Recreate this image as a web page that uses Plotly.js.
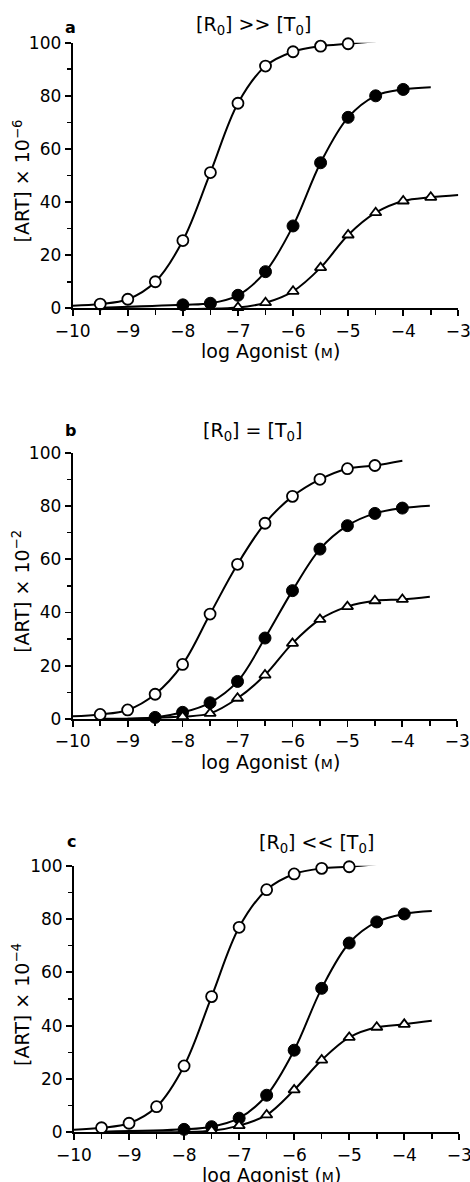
<!DOCTYPE html>
<html>
<head>
<meta charset="utf-8">
<script src="https://cdn.plot.ly/plotly-3.0.1.min.js"></script>
<style>html,body{margin:0;padding:0;background:#fff;}#chart{width:470px;height:1182px;}</style>
</head>
<body>
<div id="chart"></div>
<script>
// ---- Data ----
// Panel a: [R0] >> [T0]
const aOpenX = [-9.5, -9, -8.5, -8, -7.5, -7, -6.5, -6, -5.5, -5];
const aOpenY = [1.6, 3.4, 10, 25.5, 51.1, 77.2, 91.2, 96.6, 98.7, 99.6];
const aOpenCurveStart = [-10, 1.0];
const aOpenCurveEnd = [-4.5, 100.5];
const aFilledX = [-8, -7.5, -7, -6.5, -6, -5.5, -5, -4.5, -4];
const aFilledY = [1.3, 1.9, 4.9, 13.8, 31, 54.8, 71.9, 80, 82.4];
const aFilledCurveStart = [-9.5, 0.2];
const aFilledCurveEnd = [-3.5, 83.2];
const aTriX = [-7, -6.5, -6, -5.5, -5, -4.5, -4, -3.5];
const aTriY = [0.3, 2.1, 6.4, 15.3, 27.6, 36, 40.4, 41.8];
const aTriCurveStart = [-9.5, 0];
const aTriCurveEnd = [-3, 42.7];

// Panel b: [R0] = [T0]
const bOpenX = [-9.5, -9, -8.5, -8, -7.5, -7, -6.5, -6, -5.5, -5, -4.5];
const bOpenY = [1.7, 3.4, 9.3, 20.5, 39.4, 58.1, 73.5, 83.6, 90, 94, 95.2];
const bOpenCurveStart = [-10, 1.0];
const bOpenCurveEnd = [-4, 97];
const bFilledX = [-8.5, -8, -7.5, -7, -6.5, -6, -5.5, -5, -4.5, -4];
const bFilledY = [0.6, 2.5, 6.1, 14.1, 30.4, 48.2, 63.8, 72.6, 77.2, 79.2];
const bFilledCurveStart = [-9.5, 0.1];
const bFilledCurveEnd = [-3.5, 80.1];
const bTriX = [-8, -7.5, -7, -6.5, -6, -5.5, -5, -4.5, -4];
const bTriY = [0.9, 2.1, 7.8, 16.5, 28.4, 37.4, 42.2, 44.4, 44.9];
const bTriCurveStart = [-9, 0.1];
const bTriCurveEnd = [-3.5, 45.9];

// Panel c: [R0] << [T0]
const cOpenX = [-9.5, -9, -8.5, -8, -7.5, -7, -6.5, -6, -5.5, -5];
const cOpenY = [1.7, 3.4, 9.6, 24.9, 50.9, 76.9, 91, 96.9, 99, 99.6];
const cOpenCurveStart = [-10, 1.0];
const cOpenCurveEnd = [-4.5, 100.6];
const cFilledX = [-8, -7.5, -7, -6.5, -6, -5.5, -5, -4.5, -4];
const cFilledY = [1.1, 2.1, 5.3, 13.9, 30.8, 54, 71, 78.9, 81.9];
const cFilledCurveStart = [-9.5, 0.2];
const cFilledCurveEnd = [-3.5, 83];
const cTriX = [-7.5, -7, -6.5, -6, -5.5, -5, -4.5, -4];
const cTriY = [0.6, 2.5, 6.5, 15.9, 27.1, 35.6, 39.4, 40.5];
const cTriCurveStart = [-9, 0.1];
const cTriCurveEnd = [-3.5, 41.8];

const xTickVals = [-10, -9, -8, -7, -6, -5, -4, -3];
const yTickVals = [0, 20, 40, 60, 80, 100];
const panelLetters = ['a', 'b', 'c'];
const panelTitles = ['[R<sub>0</sub>] >> [T<sub>0</sub>]', '[R<sub>0</sub>] = [T<sub>0</sub>]', '[R<sub>0</sub>] << [T<sub>0</sub>]'];
const yTitles = ['[ART] × 10<sup>−6</sup>', '[ART] × 10<sup>−2</sup>', '[ART] × 10<sup>−4</sup>'];
const xTitle = 'log Agonist (<span style="font-size:14px">M</span>)';

// ---- Build ----
const FONT = 'DejaVu Sans, Liberation Sans, Arial, sans-serif';
const W = 470, H = 1182;
// pixel geometry of each panel: [left, right, top, bottom]
const geom = [
  [72.7, 458.3, 42.7, 308.3],
  [72.7, 457.3, 452.7, 719.0],
  [74.0, 459.3, 865.7, 1132.3]
];
const panels = [
  {open:[aOpenX,aOpenY,aOpenCurveStart,aOpenCurveEnd], filled:[aFilledX,aFilledY,aFilledCurveStart,aFilledCurveEnd], tri:[aTriX,aTriY,aTriCurveStart,aTriCurveEnd]},
  {open:[bOpenX,bOpenY,bOpenCurveStart,bOpenCurveEnd], filled:[bFilledX,bFilledY,bFilledCurveStart,bFilledCurveEnd], tri:[bTriX,bTriY,bTriCurveStart,bTriCurveEnd]},
  {open:[cOpenX,cOpenY,cOpenCurveStart,cOpenCurveEnd], filled:[cFilledX,cFilledY,cFilledCurveStart,cFilledCurveEnd], tri:[cTriX,cTriY,cTriCurveStart,cTriCurveEnd]}
];
const markerStyles = {
  open: {symbol:'circle', size:11, color:'#ffffff', line:{color:'#000', width:1.8}},
  filled: {symbol:'circle', size:12, color:'#000000', line:{color:'#000', width:1}},
  tri: {symbol:'triangle-up', size:10, color:'#ffffff', line:{color:'#000', width:1.8}}
};

const traces = [];
const layout = {
  width: W, height: H,
  margin: {l:0, r:0, t:0, b:0},
  paper_bgcolor: '#fff', plot_bgcolor: 'rgba(0,0,0,0)',
  showlegend: false,
  font: {family: FONT, color: '#000', size: 17},
  annotations: []
};

panels.forEach((p, i) => {
  const n = i === 0 ? '' : String(i + 1);
  const xa = 'x' + n, ya = 'y' + n;
  const g = geom[i];
  ['open', 'filled', 'tri'].forEach(k => {
    const [xs, ys, st, en] = p[k];
    traces.push({
      x: [st[0]].concat(xs, [en[0]]),
      y: [st[1]].concat(ys, [en[1]]),
      xaxis: xa, yaxis: ya, mode: 'lines', type: 'scatter',
      line: {color: '#000', width: 2, shape: 'spline', smoothing: 1},
      cliponaxis: false, hoverinfo: 'skip'
    });
  });
  ['open', 'filled', 'tri'].forEach(k => {
    const [xs, ys] = p[k];
    traces.push({
      x: xs, y: ys, xaxis: xa, yaxis: ya, mode: 'markers', type: 'scatter',
      marker: markerStyles[k], cliponaxis: false
    });
  });
  layout['xaxis' + n] = {
    domain: [g[0] / W, g[1] / W], anchor: ya, range: [-10, -3],
    showgrid: false, zeroline: false, showline: true, linecolor: '#000', linewidth: 2,
    ticks: 'outside', ticklen: 6, tickwidth: 1.8, tickcolor: '#000',
    tickvals: xTickVals, ticktext: xTickVals.map(v => v === 0 ? '0' : '−' + Math.abs(v)),
    tickfont: {family: FONT, size: 17, color: '#000'},
    ticklabeloverflow: 'allow',
    minor: {dtick: 0.5, tick0: -10, ticks: 'outside', ticklen: 5, tickwidth: 1.6, tickcolor: '#000', showgrid: false},
    fixedrange: true
  };
  layout['yaxis' + n] = {
    domain: [1 - g[3] / H, 1 - g[2] / H], anchor: xa, range: [0, 100],
    showgrid: false, zeroline: false, showline: true, linecolor: '#000', linewidth: 2,
    ticks: 'outside', ticklen: 6, tickwidth: 1.8, tickcolor: '#000',
    tickvals: yTickVals,
    tickfont: {family: FONT, size: 17, color: '#000'},
    minor: {dtick: 10, tick0: 0, ticks: 'outside', ticklen: 4, tickwidth: 1.6, tickcolor: '#000', showgrid: false},
    fixedrange: true
  };
  // panel letter
  const letterPos = [[70, 28], [70, 430], [71.7, 841.7]][i];
  layout.annotations.push({
    xref: 'paper', yref: 'paper', x: letterPos[0] / W, y: 1 - letterPos[1] / H,
    text: '<b>' + panelLetters[i] + '</b>', showarrow: false,
    xanchor: 'center', yanchor: 'middle', font: {family: FONT, size: 16, color: '#000'}
  });
  // panel title
  const titlePos = [[253, 25], [252, 431], [316, 843]][i];
  layout.annotations.push({
    xref: 'paper', yref: 'paper', x: titlePos[0] / W, y: 1 - titlePos[1] / H,
    text: panelTitles[i], showarrow: false,
    xanchor: 'center', yanchor: 'middle', font: {family: FONT, size: 19, color: '#000'}
  });
  // y title
  layout.annotations.push({
    xref: 'paper', yref: 'paper', x: 21 / W, y: 1 - ((g[2] + g[3]) / 2 + 6) / H,
    text: yTitles[i], showarrow: false, textangle: -90,
    xanchor: 'center', yanchor: 'middle', font: {family: FONT, size: 19, color: '#000'}
  });
  // x title
  layout.annotations.push({
    xref: 'paper', yref: 'paper', x: ((g[0] + g[1]) / 2 + 5) / W, y: 1 - (g[3] + 43) / H,
    text: xTitle, showarrow: false,
    xanchor: 'center', yanchor: 'middle', font: {family: FONT, size: 19, color: '#000'}
  });
});

Plotly.newPlot('chart', traces, layout, {displayModeBar: false, staticPlot: true});
</script>
</body>
</html>
